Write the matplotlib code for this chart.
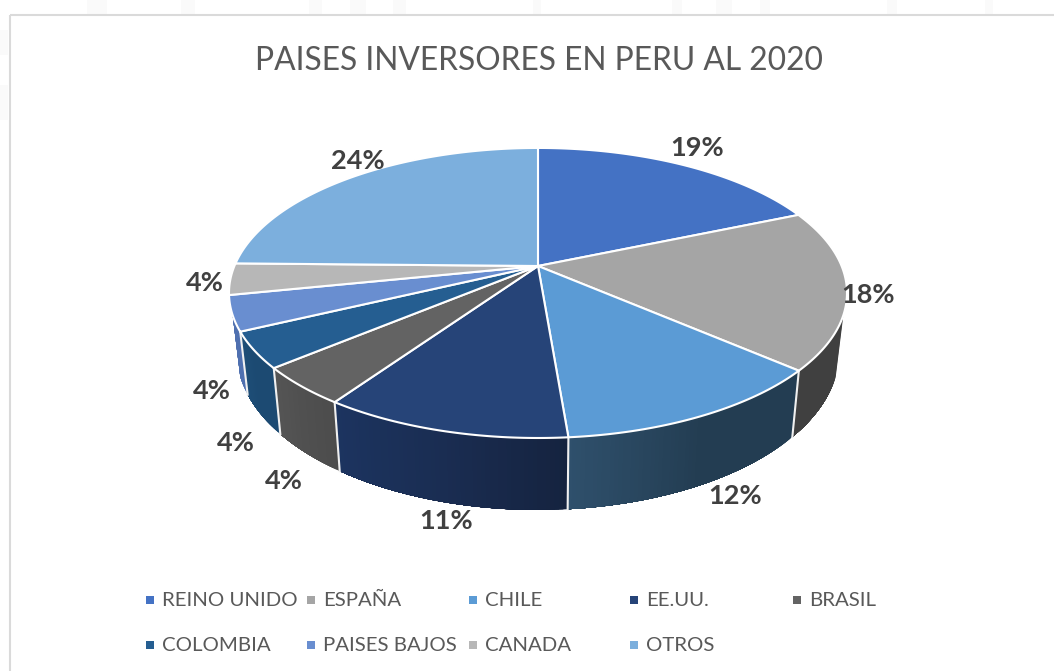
import numpy as np
import matplotlib
matplotlib.use("Agg")
import matplotlib.pyplot as plt
from matplotlib.patches import Polygon, Rectangle
from matplotlib.colors import to_rgb

TITLE = "PAISES INVERSORES EN PERU AL 2020"
countries = ["REINO UNIDO", "ESPAÑA", "CHILE", "EE.UU.", "BRASIL",
             "COLOMBIA", "PAISES BAJOS", "CANADA", "OTROS"]
shares = [18.6, 17.8, 12.3, 10.9, 4.3, 4.0, 3.9, 3.5, 24.7]
share_labels = ["19%", "18%", "12%", "11%", "4%", "4%", "4%", "4%", "24%"]

top_colors = ["#4472C4", "#A5A5A5", "#5B9BD5", "#264478", "#636363",
              "#255E91", "#698ED0", "#B7B7B7", "#7CAFDD"]
# side colours along increasing angle: (start, middle, end)
side_colors = [("#2F5597",) * 3,
               ("#404040", "#404040", "#404040"),
               ("#233D52", "#233D52", "#2F506C"),
               ("#15233F", "#1A2D52", "#1C3460"),
               ("#4C4C4C", "#505050", "#555555"),
               ("#1C4A72", "#1C4A72", "#1E4E78"),
               ("#4F70B0", "#4F70B0", "#4F70B0"),
               ("#888888",) * 3, ("#5D8DB8",) * 3]
# label offset from the rim point at each slice's middle angle, px
label_offsets = [(14, -17), (21, 6), (33, 80), (4, 90), (-17, 95),
                 (-18, 93), (-20, 78), (-26, 4), (8, -17)]
legend_x = [146, 307, 469, 630, 793]
legend_y = [600, 645]
# faint page watermark showing outside the chart frame (x, y, w, h)
watermark = [(87, 0, 20, 14), (181, 0, 14, 14), (309, 0, 13, 14), (350, 0, 16, 14),
             (393, 0, 13, 14), (533, 0, 8, 14), (672, 0, 10, 14), (716, 0, 16, 14),
             (760, 0, 10, 14), (887, 0, 10, 14), (985, 0, 8, 14),
             (0, 30, 8, 25), (0, 85, 8, 35)]

W, H = 1054, 671
CX, CY, A, B, K = 538.0, 266.0, 303.6, 140.0, 0.186
SIDE_START, SIDE_END = np.radians(109.2), np.radians(250.8)
plt.rcParams["font.family"] = ["Lato", "DejaVu Sans"]

def top(theta):
    x, y = np.sin(theta), np.cos(theta)
    d = 1 + K * y
    return CX + A * x / d, CY - B * y / d

def bottom(theta):
    X, Y = top(theta)
    return CX + 0.975 * (X - CX), Y + 72 - 0.085 * (438 - Y)

fig = plt.figure(figsize=(W / 100, H / 100), dpi=100, facecolor="white")
ax = fig.add_axes([0, 0, 1, 1])
ax.set_xlim(0, W)
ax.set_ylim(H, 0)
ax.axis("off")

for x, y, w, h in watermark:
    ax.add_patch(Rectangle((x, y), w, h, fc="#FAFAFA", ec="none", zorder=0))

# chart frame (runs off the right and bottom of the image)
ax.add_patch(Rectangle((9.5, 14.8), W, H, fill=False, ec="#DADADA", lw=1.5, zorder=1))

vals = np.asarray(shares, float)
edges = np.concatenate([[0], np.cumsum(vals) / vals.sum() * 2 * np.pi])

# extruded side: each strip reaches to the slice's end, so no seams show
for i in range(len(vals)):
    a0, a1 = max(edges[i], SIDE_START), min(edges[i + 1], SIDE_END)
    if a1 <= a0:
        continue
    n = max(2, int(np.degrees(a1 - a0) * 1.5))
    ts = np.linspace(a0, a1, n + 1)
    c = np.array([to_rgb(s) for s in side_colors[i]])
    for j in range(n):
        f = (j + 0.5) / n
        col = [np.interp(f, [0, 0.5, 1], c[:, k]) for k in range(3)]
        t = np.linspace(ts[j], a1, 40)
        xt, yt = top(t)
        xb, yb = bottom(t[::-1])
        ax.add_patch(Polygon(np.c_[np.r_[xt, xb], np.r_[yt, yb]], closed=True,
                             fc=col, ec="none", lw=0, zorder=2))

# separators on the side
for e in edges:
    if SIDE_START < e < SIDE_END:
        xt, yt = top(e)
        xb, yb = bottom(e)
        ax.plot([xt, xb], [yt, yb], color="#F0F0F0", lw=1.5, zorder=3)

# top face
for i in range(len(vals)):
    t = np.linspace(edges[i], edges[i + 1], 120)
    xr, yr = top(t)
    ax.add_patch(Polygon(np.c_[np.r_[CX, xr], np.r_[CY, yr]], closed=True,
                         fc=top_colors[i], ec="white", lw=1.5,
                         joinstyle="round", zorder=4))

# value labels
for i, lab in enumerate(share_labels):
    xm, ym = top((edges[i] + edges[i + 1]) / 2)
    ax.text(xm + label_offsets[i][0], ym + label_offsets[i][1], lab,
            ha="center", va="center", fontsize=19.5, fontweight="bold",
            color="#404040", zorder=6)

ax.text(539, 61.5, TITLE, ha="center", va="center", fontsize=22.9,
        color="#595959", zorder=6)

# legend
for i, name in enumerate(countries):
    row, col = divmod(i, 5)
    x0, y0 = legend_x[col], legend_y[row]
    ax.add_patch(Rectangle((x0, y0 - 4), 8, 8, fc=top_colors[i], ec="none", zorder=6))
    ax.text(x0 + 16, y0 + 0.5, name, ha="left", va="center", fontsize=14.7,
            color="#595959", zorder=6)

fig.savefig("out.png", dpi=100, facecolor="white")
